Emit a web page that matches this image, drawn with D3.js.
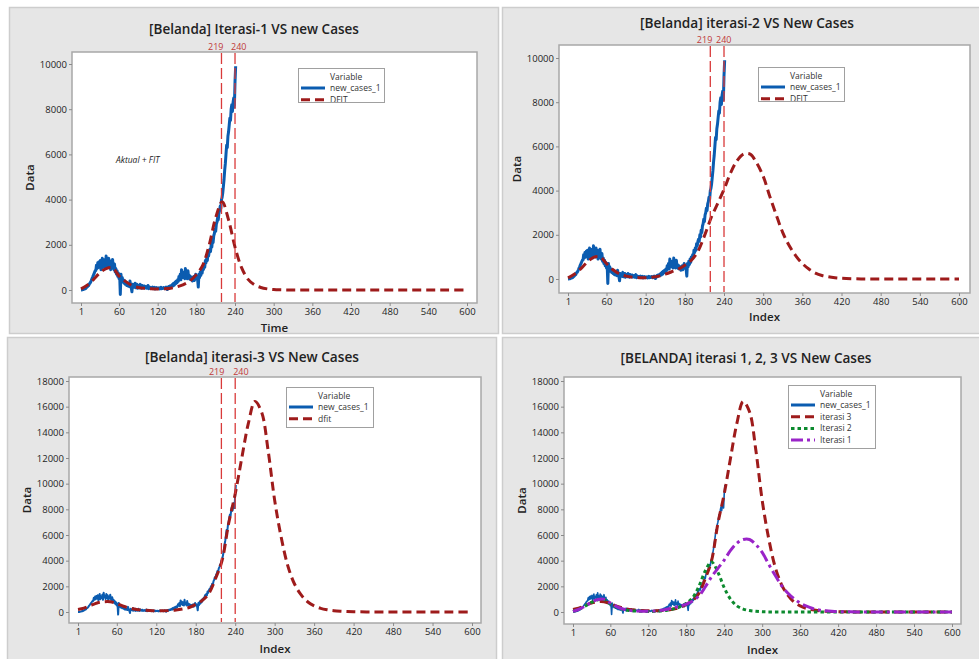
<!DOCTYPE html>
<html>
<head>
<meta charset="utf-8">
<script src="https://cdn.jsdelivr.net/npm/d3@7"></script>
<style>
  body { margin: 0; background: #fff; }
  svg text { font-family: "Open Sans", "Noto Sans", sans-serif; }
</style>
</head>
<body>
<svg id="chart" width="979" height="659"></svg>
<script>
// daily new cases, day 1..241
const newCases = [
  2, 5, 8, 15, 30, 40, 70, 60, 90, 120,
  150, 180, 200, 280, 300, 350, 420, 500, 560, 640,
  700, 780, 850, 860, 1100, 950, 1200, 1000, 1250, 1050,
  1300, 900, 1150, 1400, 1000, 1200, 1100, 1350, 950, 1500,
  1150, 1250, 1000, 1400, 1100, 1300, 900, 1200, 1050, 1350,
  1000, 900, 1150, 800, 950, 700, 850, 600, 750, 500,
  650, -200, 700, 400, 550, 350, 450, 300, 400, 250,
  350, 200, 300, 180, 250, 150, 400, 200, 100, -80,
  250, 150, 200, 120, 300, 100, 180, 250, 80, 200,
  150, 100, 250, 120, 80, 200, 150, 100, 180, 90,
  120, 150, 80, 100, 200, 60, 140, 90, 110, 70,
  100, 130, 60, 90, 120, 50, 80, 110, 60, 90,
  70, 100, 50, 80, 120, 60, 90, 70, 110, 80,
  60, 100, 130, 80, 20, 120, 150, 100, 180, 140,
  200, 160, 250, 180, 300, 220, 350, 280, 400, 320,
  450, 380, 600, 500, 700, 450, 900, 600, 800, 550,
  750, 500, 950, 600, 700, 500, 850, 550, 650, 480,
  600, 450, 550, 400, 500, 600, 420, 550, 700, 500,
  600, 450, 130, 700, 550, 800, 650, 900, 750, 1000,
  900, 1100, 1000, 1300, 1200, 1400, 1300, 1600, 1500, 1700,
  1800, 1700, 2000, 1900, 2200, 2100, 2400, 2500, 2700, 2600,
  2900, 3000, 3200, 3100, 3400, 3500, 3700, 3600, 4000, 4100,
  4300, 4600, 4900, 5300, 5600, 6000, 6400, 6300, 6800, 7000,
  7300, 7600, 7500, 8000, 8200, 7900, 8300, 8500, 8100, 9200,
  9900
];

// fitted curves sampled at these days
const fitDays = [1, 10, 20, 30, 40, 50, 60, 70, 80, 90,
  100, 110, 120, 130, 140, 150, 160, 170, 180, 190,
  200, 210, 220, 230, 240, 250, 260, 270, 280, 290,
  300, 310, 320, 330, 340, 350, 360, 370, 380, 390,
  400, 410, 420, 450, 480, 510, 540, 570, 600];

const dfitIter1 = [50, 200, 450, 750, 950, 980, 620, 380, 200, 110,
  70, 50, 40, 50, 80, 140, 240, 400, 680, 1100,
  2000, 3200, 3900, 3100, 1900, 1000, 480, 230, 110, 50,
  20, 8, 4, 2, 1, 0, 0, 0, 0, 0,
  0, 0, 0, 0, 0, 0, 0, 0, 0];

const dfitIter2 = [50, 200, 450, 750, 980, 1000, 700, 420, 230, 130,
  80, 60, 60, 80, 130, 220, 330, 450, 620, 850,
  1250, 1950, 2750, 3400, 4050, 4800, 5350, 5650, 5650, 5250,
  4650, 3750, 2900, 2100, 1500, 1050, 700, 450, 270, 160,
  100, 60, 35, 5, 0, 0, 0, 0, 0];

const dfitIter3 = [200, 300, 500, 700, 800, 800, 650, 450, 300, 200,
  150, 120, 100, 100, 110, 150, 230, 350, 600, 900,
  1450, 2600, 4000, 6900, 9200, 12000, 14700, 16400, 15600, 12600,
  8700, 5800, 3600, 2200, 1350, 800, 480, 280, 170, 100,
  60, 35, 20, 5, 0, 0, 0, 0, 0];

const xTicks = [1, 60, 120, 180, 240, 300, 360, 420, 480, 540, 600];
const yTicks10k = [0, 2000, 4000, 6000, 8000, 10000];
const yTicks18k = [0, 2000, 4000, 6000, 8000, 10000, 12000, 14000, 16000, 18000];
const refDays = [219, 240];

const styles = {
  actual: { color: '#0b5cb0', dash: null },
  red:    { color: '#9e1b1b', dash: '9,5' },
  green:  { color: '#0c8a2e', dash: '3.5,3' },
  purple: { color: '#9a24c8', dash: '12,4,3,4' }
};

const panels = [
  { box: [9, 7, 489, 326], plot: [72, 52, 477, 303], xPx: [81, 467], yPx: [290, 64], yMax: 10000, yTicks: yTicks10k,
    title: '[Belanda] Iterasi-1 VS new Cases', titleX: 254, titleY: 34, titleW: 210,
    xLabel: 'Time', xLabelY: 332, yLabelX: 34, refs: true, refDx: [2, -4],
    legend: { x: 298, y: 68, w: 86, h: 34 }, actualWidth: 3,
    series: [{ name: 'new_cases_1', style: 'actual' }, { name: 'DFIT', style: 'red', values: dfitIter1 }],
    note: 'Aktual + FIT' },
  { box: [502, 7, 480, 326], plot: [559, 45, 970, 293], xPx: [568, 959], yPx: [279, 58], yMax: 10000, yTicks: yTicks10k,
    title: '[Belanda] iterasi-2 VS New Cases', titleX: 747, titleY: 28, titleW: 214,
    xLabel: 'Index', xLabelY: 321, yLabelX: 521, refs: true, refDx: [2, -8],
    legend: { x: 758, y: 67, w: 86, h: 34 }, actualWidth: 3,
    series: [{ name: 'new_cases_1', style: 'actual' }, { name: 'DFIT', style: 'red', values: dfitIter2 }] },
  { box: [7, 337, 489, 324], plot: [69, 377, 481, 623], xPx: [78, 472], yPx: [612, 381], yMax: 18000, yTicks: yTicks18k,
    title: '[Belanda] iterasi-3 VS New Cases', titleX: 252, titleY: 362, titleW: 214,
    xLabel: 'Index', xLabelY: 653, yLabelX: 31, refs: true, refDx: [3, -2],
    legend: { x: 286, y: 387, w: 87, h: 40 }, actualWidth: 2,
    series: [{ name: 'new_cases_1', style: 'actual' }, { name: 'dfit', style: 'red', values: dfitIter3 }] },
  { box: [502, 337, 480, 324], plot: [564, 377, 961, 624], xPx: [573, 952], yPx: [612, 381], yMax: 18000, yTicks: yTicks18k,
    title: '[BELANDA] iterasi 1, 2, 3 VS New Cases', titleX: 746, titleY: 363, titleW: 251,
    xLabel: 'Index', xLabelY: 654, yLabelX: 526, refs: false,
    legend: { x: 788, y: 385, w: 87, h: 63 }, actualWidth: 1.6,
    series: [{ name: 'new_cases_1', style: 'actual' },
             { name: 'iterasi 3', style: 'red', values: dfitIter3 },
             { name: 'Iterasi 2', style: 'green', values: dfitIter1 },
             { name: 'Iterasi 1', style: 'purple', values: dfitIter2 }] }
];

const svg = d3.select('#chart');

panels.forEach(function (p, pi) {
  const g = svg.append('g');
  const [pl, pt, pr, pb] = p.plot;

  g.append('rect')
    .attr('x', p.box[0] + 0.5).attr('y', p.box[1] + 0.5)
    .attr('width', p.box[2]).attr('height', p.box[3])
    .attr('fill', '#e6e6e6').attr('stroke', '#cdcdcd').attr('stroke-width', 1.5);

  g.append('rect')
    .attr('x', pl).attr('y', pt).attr('width', pr - pl).attr('height', pb - pt)
    .attr('fill', '#fff').attr('stroke', '#a8a8a8').attr('stroke-width', 1.5);

  const x = d3.scaleLinear().domain([1, 600]).range(p.xPx);
  const y = d3.scaleLinear().domain([0, p.yMax]).range(p.yPx);

  // axes
  const ax = g.append('g').attr('transform', `translate(0,${pb})`)
    .call(d3.axisBottom(x).tickValues(xTicks).tickSize(3).tickPadding(2).tickFormat(d3.format('d')));
  const ay = g.append('g').attr('transform', `translate(${pl},0)`)
    .call(d3.axisLeft(y).tickValues(p.yTicks).tickSize(3).tickPadding(2).tickFormat(d3.format('d')));
  [ax, ay].forEach(function (a) {
    a.select('.domain').remove();
    a.selectAll('.tick line').attr('stroke', '#8a8a8a');
    a.selectAll('.tick text').attr('fill', '#1e1e1e').style('font-size', '9.5px');
  });

  // clip to plot area
  const clipId = 'clip' + pi;
  g.append('clipPath').attr('id', clipId)
    .append('rect').attr('x', pl + 1).attr('y', pt + 1).attr('width', pr - pl - 2).attr('height', pb - pt - 2);
  const plot = g.append('g').attr('clip-path', `url(#${clipId})`);

  p.series.forEach(function (s) {
    const st = styles[s.style];
    if (s.style === 'actual') {
      const line = d3.line().x((d, i) => x(i + 1)).y(d => y(d));
      plot.append('path').datum(newCases).attr('d', line)
        .attr('fill', 'none').attr('stroke', st.color)
        .attr('stroke-width', p.actualWidth).attr('stroke-linejoin', 'round');
    } else {
      const line = d3.line().x((d, i) => x(fitDays[i])).y(d => y(d))
        .curve(d3.curveCatmullRom.alpha(0.5));
      plot.append('path').datum(s.values).attr('d', line)
        .attr('fill', 'none').attr('stroke', st.color).attr('stroke-width', 3)
        .attr('stroke-dasharray', st.dash);
    }
  });

  // reference lines
  if (p.refs) {
    refDays.forEach(function (d, k) {
      g.append('line')
        .attr('x1', x(d)).attr('x2', x(d)).attr('y1', pt + 1).attr('y2', pb - 1)
        .attr('stroke', '#d93a3a').attr('stroke-width', 1.3).attr('stroke-dasharray', '11,4');
      g.append('text')
        .attr('x', x(d) + p.refDx[k]).attr('y', pt - 2.5)
        .attr('text-anchor', k === 0 ? 'end' : 'start')
        .attr('fill', '#c03a3a').style('font-size', '9px')
        .text(d);
    });
  }

  // legend
  const L = p.legend;
  const lclip = 'lclip' + pi;
  g.append('clipPath').attr('id', lclip)
    .append('rect').attr('x', L.x).attr('y', L.y).attr('width', L.w).attr('height', L.h);
  const lg = g.append('g').attr('clip-path', `url(#${lclip})`);
  lg.append('rect').attr('x', L.x).attr('y', L.y).attr('width', L.w).attr('height', L.h)
    .attr('fill', '#fff');
  lg.append('text').attr('x', L.x + 32).attr('y', L.y + 11.5)
    .attr('fill', '#333').style('font-size', '8.5px').text('Variable');
  p.series.forEach(function (s, i) {
    const st = styles[s.style];
    const ry = L.y + 20 + i * 11.7;
    lg.append('line').attr('x1', L.x + 3).attr('x2', L.x + 27).attr('y1', ry).attr('y2', ry)
      .attr('stroke', st.color).attr('stroke-width', 3)
      .attr('stroke-dasharray', st.dash);
    lg.append('text').attr('x', L.x + 32).attr('y', ry + 3)
      .attr('fill', '#333').style('font-size', '8.5px').text(s.name);
  });
  g.append('rect').attr('x', L.x + 0.5).attr('y', L.y + 0.5).attr('width', L.w).attr('height', L.h)
    .attr('fill', 'none').attr('stroke', '#a0a0a0');

  // title
  const t = g.append('text').attr('x', p.titleX).attr('y', p.titleY)
    .attr('text-anchor', 'middle').attr('fill', '#222')
    .style('font-size', '14px').style('font-weight', 600).text(p.title);
  const tw = t.node().getComputedTextLength();
  if (tw > 0) t.style('font-size', (14 * p.titleW / tw).toFixed(2) + 'px');

  // axis labels
  g.append('text').attr('x', (pl + pr) / 2).attr('y', p.xLabelY)
    .attr('text-anchor', 'middle').attr('fill', '#222')
    .style('font-size', '11.5px').style('font-weight', 600).text(p.xLabel);
  g.append('text')
    .attr('transform', `translate(${p.yLabelX},${(pt + pb) / 2}) rotate(-90)`)
    .attr('text-anchor', 'middle').attr('fill', '#222')
    .style('font-size', '11.5px').style('font-weight', 600).text('Data');

  if (p.note) {
    g.append('text').attr('x', 116).attr('y', 163)
      .attr('fill', '#222').style('font-size', '8.5px').style('font-style', 'italic').text(p.note);
  }
});
</script>
</body>
</html>
